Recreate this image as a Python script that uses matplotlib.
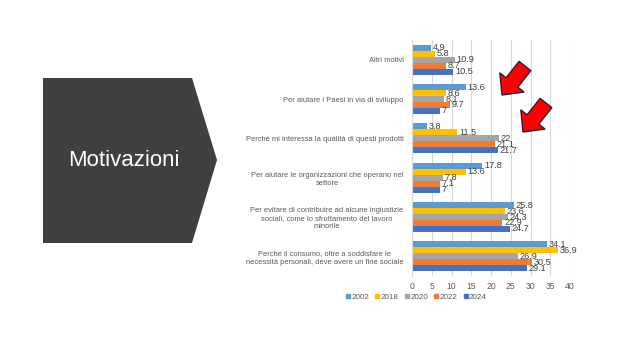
import matplotlib
matplotlib.use("Agg")
import matplotlib.pyplot as plt
import numpy as np
from matplotlib.patches import Polygon, FancyArrow
from matplotlib.transforms import IdentityTransform

plt.rcParams['font.family'] = ['Liberation Sans', 'DejaVu Sans']

categories = [
    "Altri motivi",
    "Per aiutare i Paesi in via di sviluppo",
    "Perché mi interessa la qualità di questi prodotti",
    "Per aiutare le organizzazioni che operano nel\nsettore",
    "Per evitare di contribuire ad alcune ingiustizie\nsociali, come lo sfruttamento del lavoro\nminorile",
    "Perché il consumo, oltre a soddisfare le\nnecessità personali, deve avere un fine sociale",
]
years = ["2002", "2018", "2020", "2022", "2024"]
v2002 = [4.9, 13.6, 3.8, 17.8, 25.8, 34.1]
v2018 = [5.8, 8.6, 11.5, 13.6, 23.6, 36.9]
v2020 = [10.9, 8.1, 22, 7.8, 24.3, 26.9]
v2022 = [8.7, 9.7, 21.1, 7.1, 22.9, 30.5]
v2024 = [10.5, 7, 21.7, 7, 24.7, 29.1]
series = [v2002, v2018, v2020, v2022, v2024]
colors = ["#5B9BD5", "#FFC000", "#A5A5A5", "#ED7D31", "#4472C4"]
xticks = [0, 5, 10, 15, 20, 25, 30, 35, 40]
title = "Motivazioni"

W, H = 620, 340
fig = plt.figure(figsize=(W / 100, H / 100), dpi=100)
fig.patch.set_facecolor("white")

def px(x, y):
    return (x / W, 1 - y / H)

pent = Polygon([px(43, 78), px(192, 78), px(217, 160), px(192, 243), px(43, 243)],
               closed=True, transform=fig.transFigure, facecolor="#404040",
               edgecolor="none")
fig.patches.append(pent)
fig.text(124 / W, 1 - 160 / H, title, color="white", fontsize=16,
         ha="center", va="center")

# Chart axes
ax = fig.add_axes([412 / W, 1 - 276 / H, 158 / W, 236 / H])
n = len(categories)
y = np.arange(n)
bh = 0.152
for i, (vals, c, yr) in enumerate(zip(series, colors, years)):
    pos = y + (i - 2) * bh
    ax.barh(pos, vals, height=bh, color=c, label=yr)
    for p, v in zip(pos, vals):
        ax.text(v + 0.4, p, f"{v:g}", va="center", ha="left", fontsize=6.6,
                color="#404040")

ax.set_xlim(0, 40)
ax.set_ylim(n - 0.5, -0.5)
ax.set_xticks(xticks)
ax.set_xticklabels([str(t) for t in xticks])
ax.set_yticks(y)
ax.set_yticklabels(categories, multialignment="center", linespacing=1.25)
ax.tick_params(axis="both", length=0, colors="#595959")
ax.tick_params(axis="x", pad=4, labelsize=6.2)
ax.tick_params(axis="y", pad=6, labelsize=5.45)
ax.grid(axis="x", color="#D9D9D9", linewidth=0.8)
ax.set_axisbelow(True)
for s in ["top", "right", "bottom"]:
    ax.spines[s].set_visible(False)
ax.spines["left"].set_color("#D9D9D9")
ax.spines["left"].set_linewidth(0.8)

# Legend
handles = [plt.Line2D([], [], marker="s", linestyle="none", color=c,
                      markersize=3.5) for c in colors]
fig.legend(handles, years, loc="center", bbox_to_anchor=(416 / W, 1 - 297 / H),
           ncol=5, frameon=False, fontsize=5.8, handletextpad=0.05,
           columnspacing=0.7, handlelength=0.7, labelcolor="#595959")

# Red arrows (pixel coordinates)
def arrow(x0, y0, x1, y1):
    a = FancyArrow(x0, H - y0, x1 - x0, -(y1 - y0), width=15, head_width=31,
                   head_length=16, length_includes_head=True,
                   facecolor="#FF0000", edgecolor="#2E1E36", linewidth=1.0)
    a.set_transform(IdentityTransform())
    fig.patches.append(a)

arrow(525, 66, 502, 95)
arrow(546, 103, 523, 132)

fig.savefig("out.png", dpi=100)
